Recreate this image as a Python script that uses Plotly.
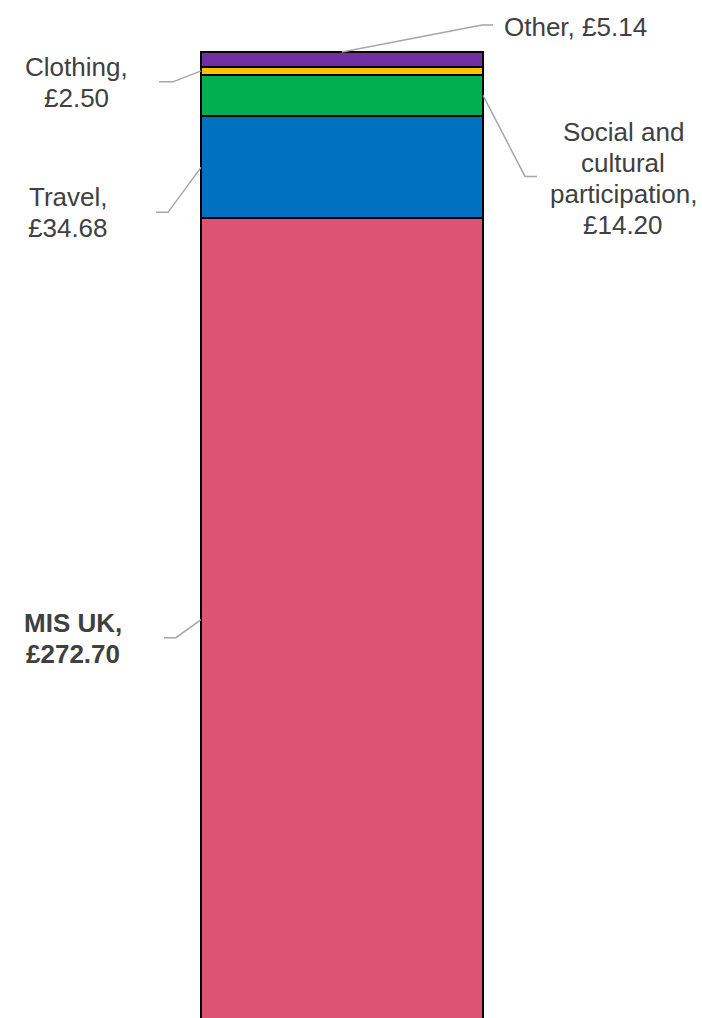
import plotly.graph_objects as go

# Weekly budget components (GBP), bottom to top of the stack
categories = ["MIS UK", "Travel", "Social and cultural participation", "Clothing", "Other"]
values = [272.70, 34.68, 14.20, 2.50, 5.14]
colors = ["#DC5373", "#0070C0", "#00B050", "#FFC000", "#7030A0"]

# How each label is written (line breaks) and whether it is bold
label_lines = {
    "MIS UK": ["MIS UK,"],
    "Travel": ["Travel,"],
    "Social and cultural participation": ["Social and", "cultural", "participation,"],
    "Clothing": ["Clothing,"],
    "Other": ["Other,"],
}
bold_labels = {"MIS UK"}

# Leader placement: which bar edge the line starts from, elbow/end offsets (px, up = +),
# and the text block centre offset from the anchor (px)
placement = {
    "MIS UK":   dict(edge="left",  pts=[(-25, -18), (-37, -18)], shift=(-128, -19), xanchor="center"),
    "Travel":   dict(edge="left",  pts=[(-33, -45), (-45, -45)], shift=(-133, -45), xanchor="center"),
    "Social and cultural participation":
                dict(edge="right", pts=[(42, -81), (54, -81)],   shift=(140, -83), xanchor="center"),
    "Clothing": dict(edge="left",  pts=[(-28, -11), (-42, -11)], shift=(-125, -12), xanchor="center"),
    "Other":    dict(edge="top",   pts=[(140, 27), (151, 27)],   shift=(160, 25), xanchor="left"),
}
LINE_GAP = 31  # px between label lines
FONT = dict(family="Liberation Sans, Arial, sans-serif", size=26, color="#404040")

fig = go.Figure()
for cat, val, col in zip(categories, values, colors):
    fig.add_trace(go.Bar(
        x=[0], y=[val], name=cat, width=1,
        marker=dict(color=col, line=dict(color="#000000", width=2)),
        hoverinfo="skip",
    ))

total = sum(values)
cum = 0.0
shapes = []
annotations = []
for cat, val in zip(categories, values):
    p = placement[cat]
    mid = cum + val / 2
    cum += val
    if p["edge"] == "left":
        ax, ay = -0.5, mid
    elif p["edge"] == "right":
        ax, ay = 0.5, mid
    else:
        ax, ay = 0.0, total
    path = "M 0,0 " + " ".join(f"L {dx},{dy}" for dx, dy in p["pts"])
    shapes.append(dict(
        type="path", xref="x", yref="y", xsizemode="pixel", ysizemode="pixel",
        xanchor=ax, yanchor=ay, path=path,
        line=dict(color="#A6A6A6", width=1.5),
    ))
    value_txt = f"£{val:.2f}"
    if cat == "Other":
        lines = [label_lines[cat][0] + " " + value_txt]
    else:
        lines = label_lines[cat] + [value_txt]
    n = len(lines)
    for i, line in enumerate(lines):
        text = f"<b>{line}</b>" if cat in bold_labels else line
        annotations.append(dict(
            x=ax, y=ay, xref="x", yref="y", text=text, showarrow=False,
            xshift=p["shift"][0],
            yshift=p["shift"][1] - (i - (n - 1) / 2) * LINE_GAP,
            xanchor=p["xanchor"], yanchor="middle", align="center",
            font=FONT,
        ))

fig.update_layout(
    barmode="stack",
    width=702, height=1018,
    margin=dict(l=0, r=0, t=0, b=0),
    paper_bgcolor="white", plot_bgcolor="white",
    showlegend=False,
    xaxis=dict(range=[-1.2128, 1.2766], visible=False),
    yaxis=dict(range=[1.0, 346.9], visible=False),
    shapes=shapes,
    annotations=annotations,
)

fig.write_html("out.html")
